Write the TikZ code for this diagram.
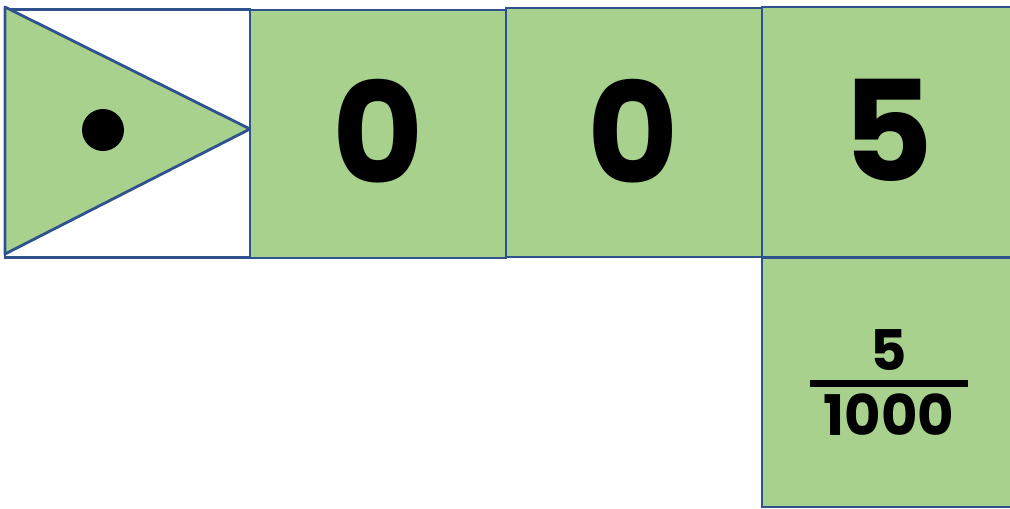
\documentclass[tikz,border=0pt]{standalone}
\usepackage{fontspec}
\setmainfont{Poppins}
\definecolor{edgec}{HTML}{2F528F}
\definecolor{greenc}{HTML}{A9D18E}
\begin{document}
\begin{tikzpicture}[x=1pt,y=-1pt,
  cell/.style={draw=edgec, line width=2.8pt, fill=greenc, inner sep=0pt, rectangle},
  big/.style={font=\fontsize{140}{140}\selectfont\bfseries, inner sep=0pt},
  small/.style={font=\fontsize{56}{56}\selectfont\bfseries, inner sep=0pt}]
\useasboundingbox (0,0) rectangle (1010,509);
% box 1 with triangle
\node[cell, fill=white, minimum width=245pt, minimum height=248.5pt] (b1) at (127.5,133.5) {};
\coordinate (t1) at (5,7);
\coordinate (t2) at (250,129);
\coordinate (t3) at (5,254);
\filldraw[fill=greenc, draw=edgec, line width=2.8pt, line join=round] (t1) -- (t2) -- (t3) -- cycle;
\node[circle, fill=black, minimum size=42pt, inner sep=0pt] (dot) at (103,130) {};
% digit boxes
\node[cell, minimum width=256pt, minimum height=248pt] (b2) at (378,134) {};
\node[cell, minimum width=256pt, minimum height=249pt] (b3) at (634,132.5) {};
\node[cell, minimum width=252pt, minimum height=250pt] (b4) at (888,132) {};
\node[cell, minimum width=252pt, minimum height=249pt] (b5) at (888,382.5) {};
\node[big] (d1) at (378,131) {0};
\node[big] (d2) at (633,131) {0};
\node[big] (d3) at (888,130) {5};
% fraction
\node[small] (num) at (889,350) {5};
\coordinate (barl) at (810,383);
\coordinate (barr) at (968,383);
\draw[line width=7pt] (barl) -- (barr);
\node[small] (den) at (889,415) {1000};
\end{tikzpicture}
\end{document}
